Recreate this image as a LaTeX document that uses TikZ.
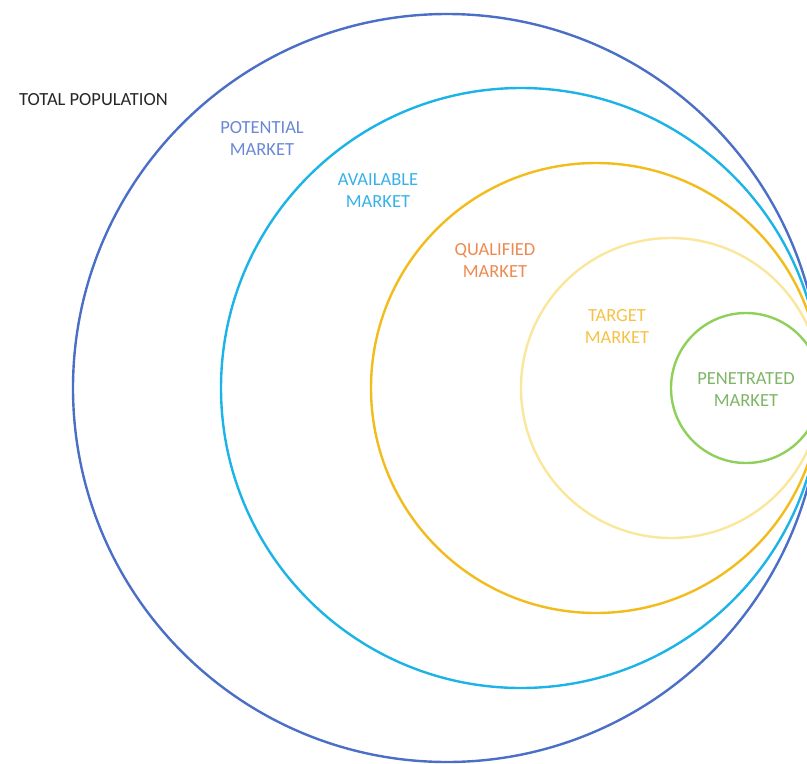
\documentclass[tikz,border=0pt]{standalone}
\usepackage{fontspec}
\setmainfont{Carlito}
\usetikzlibrary{calc}

\definecolor{popblue}{HTML}{4B6FC6}
\definecolor{potblue}{HTML}{6A88D4}
\definecolor{availcyan}{HTML}{1CB4E6}
\definecolor{availtext}{HTML}{36B2E8}
\definecolor{qualgold}{HTML}{F2BC1C}
\definecolor{qualtext}{HTML}{EE8A50}
\definecolor{targetpale}{HTML}{FAE79C}
\definecolor{targettext}{HTML}{F5C246}
\definecolor{penegreen}{HTML}{8FD05A}
\definecolor{penetext}{HTML}{7FB566}

\tikzset{
	ring/.style={circle,draw,line width=2.4pt,inner sep=0pt,minimum size=#1},
	lbl/.style={align=center,font=\fontsize{18.5}{22}\selectfont,inner sep=0pt},
}

\begin{document}
\begin{tikzpicture}[x=1pt,y=-1pt]
		\useasboundingbox (0,0) rectangle (807,764);
		\clip (0,0) rectangle (807,764);
		\coordinate (touch) at (821,388);
		%
		\node[ring=748pt,draw=popblue] (pop) at ($(touch)+(-374,0)$) {};
		\node[ring=600pt,draw=availcyan] (avail) at ($(touch)+(-300,0)$) {};
		\node[ring=450pt,draw=qualgold] (qual) at ($(touch)+(-225,0)$) {};
		\node[ring=300pt,draw=targetpale] (target) at ($(touch)+(-150,0)$) {};
		\node[ring=150pt,draw=penegreen] (pene) at ($(touch)+(-75,0)$) {};
		%
		\node[lbl,anchor=west,text=black!85,font=\fontsize{18.5}{22}\selectfont] (poptxt) at (19,100) {TOTAL POPULATION};
		\node[lbl,text=potblue] (pottxt) at (262,138) {POTENTIAL\\MARKET};
		\node[lbl,text=availtext] (availtxt) at (378,191) {AVAILABLE\\MARKET};
		\node[lbl,text=qualtext] (qualtxt) at (495,260) {QUALIFIED\\MARKET};
		\node[lbl,text=targettext] (targettxt) at (617,326) {TARGET\\MARKET};
		\node[lbl,text=penetext] (penetxt) at (746,390) {PENETRATED\\MARKET};
	\end{tikzpicture}
\end{document}
